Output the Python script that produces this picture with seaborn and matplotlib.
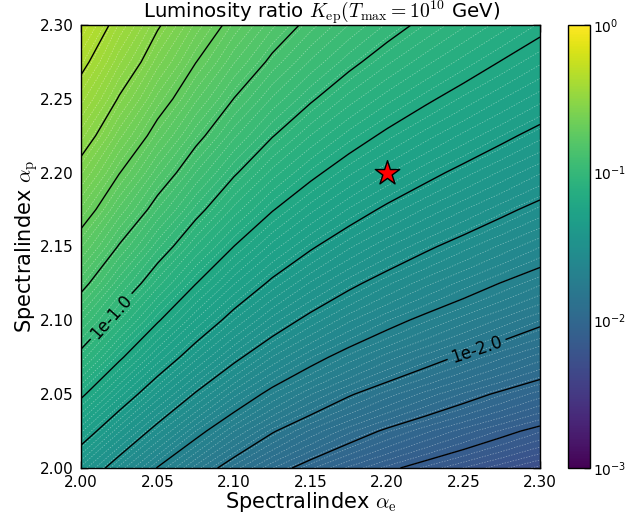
import numpy as np
import matplotlib
matplotlib.use("Agg")
import matplotlib.pyplot as plt
from matplotlib.colors import LogNorm
from matplotlib.cm import ScalarMappable
import seaborn as sns

# Spectral-index grid (electrons along x, protons along y)
alpha_e = [2.000, 2.025, 2.050, 2.075, 2.100, 2.125, 2.150,
           2.175, 2.200, 2.225, 2.250, 2.275, 2.300]
alpha_p = [2.000, 2.025, 2.050, 2.075, 2.100, 2.125, 2.150,
           2.175, 2.200, 2.225, 2.250, 2.275, 2.300]

# log10 of the luminosity ratio K_ep on that grid; one row per alpha_p value
log10_Kep = [
    [-1.510, -1.662, -1.805, -1.936, -2.055, -2.158, -2.243, -2.317, -2.381, -2.438, -2.491, -2.542, -2.592],
    [-1.344, -1.496, -1.639, -1.770, -1.889, -1.992, -2.077, -2.151, -2.215, -2.272, -2.325, -2.376, -2.426],
    [-1.184, -1.336, -1.479, -1.610, -1.729, -1.832, -1.917, -1.991, -2.055, -2.112, -2.165, -2.216, -2.266],
    [-1.034, -1.186, -1.329, -1.460, -1.579, -1.682, -1.767, -1.841, -1.905, -1.962, -2.015, -2.066, -2.116],
    [-0.897, -1.049, -1.192, -1.323, -1.442, -1.545, -1.630, -1.704, -1.768, -1.825, -1.878, -1.929, -1.979],
    [-0.772, -0.924, -1.067, -1.198, -1.317, -1.420, -1.505, -1.579, -1.643, -1.700, -1.753, -1.804, -1.854],
    [-0.656, -0.808, -0.951, -1.082, -1.201, -1.304, -1.389, -1.463, -1.527, -1.584, -1.637, -1.688, -1.738],
    [-0.547, -0.699, -0.842, -0.973, -1.092, -1.195, -1.280, -1.354, -1.418, -1.475, -1.528, -1.579, -1.629],
    [-0.445, -0.597, -0.740, -0.871, -0.990, -1.093, -1.178, -1.252, -1.316, -1.373, -1.426, -1.477, -1.527],
    [-0.348, -0.500, -0.643, -0.774, -0.893, -0.996, -1.081, -1.155, -1.219, -1.276, -1.329, -1.380, -1.430],
    [-0.257, -0.409, -0.552, -0.683, -0.802, -0.905, -0.990, -1.064, -1.128, -1.185, -1.238, -1.289, -1.339],
    [-0.172, -0.324, -0.467, -0.598, -0.717, -0.820, -0.905, -0.979, -1.043, -1.100, -1.153, -1.204, -1.254],
    [-0.094, -0.246, -0.389, -0.520, -0.639, -0.742, -0.827, -0.901, -0.965, -1.022, -1.075, -1.126, -1.176],
]

# Reference model marked with a star
star_alpha_e = [2.20]
star_alpha_p = [2.20]

# Contour levels that carry an inline label, and where the labels sit
label_levels = [1e-2, 1e-1]
label_spots = [(2.258, 2.082), (2.017, 2.105)]

axis_ticks = [2.00, 2.05, 2.10, 2.15, 2.20, 2.25, 2.30]
cbar_decades = [-3, -2, -1, 0]

sns.set_style("ticks")
plt.rcParams.update({
    "font.family": ["DejaVu Sans"],
    "mathtext.fontset": "cm",
    "axes.unicode_minus": False,
    "xtick.direction": "in",
    "ytick.direction": "in",
    "xtick.top": True,
    "ytick.right": True,
    "axes.edgecolor": "black",
    "axes.linewidth": 1.0,
    "xtick.color": "black",
    "ytick.color": "black",
    "text.color": "black",
    "axes.labelcolor": "black",
})

W, H = 627, 522
fig = plt.figure(figsize=(W / 100, H / 100), dpi=100)
ax = fig.add_axes([81 / W, 1 - 468 / H, (540 - 81) / W, (468 - 25) / H])
cax = fig.add_axes([568 / W, 1 - 468 / H, 22 / W, (468 - 25) / H])

E, P = np.meshgrid(alpha_e, alpha_p)
K = 10.0 ** np.array(log10_Kep)

cmap = sns.color_palette("viridis", as_cmap=True)
fill_norm = LogNorm(vmin=10 ** -3.5, vmax=10 ** 0.3)
bar_norm = LogNorm(vmin=1e-3, vmax=1e0)

fill_levels = np.logspace(-3, 0, 101)
ax.contourf(E, P, K, levels=fill_levels, norm=fill_norm, cmap=cmap)
# faint seams between the filled bands
ax.contour(E, P, K, levels=fill_levels, colors="white", linewidths=0.5,
           alpha=0.42, linestyles=[(0, (2.0, 2.0))])

# Black iso-lines every 0.2 decades; the labelled decades go in their own set
line_exp = np.round(np.linspace(-3, 0, 16), 6)
label_exp = np.log10(label_levels)
plain_exp = [e for e in line_exp if np.min(np.abs(label_exp - e)) > 1e-6]
ax.contour(E, P, K, levels=10.0 ** np.array(plain_exp),
           colors="black", linewidths=1.0)
cs_lab = ax.contour(E, P, K, levels=label_levels,
                    colors="black", linewidths=1.0)
ax.clabel(cs_lab, manual=label_spots, inline=True, inline_spacing=4,
          fmt=lambda v: "1e%.1f" % np.log10(v), fontsize=12)

sns.scatterplot(x=star_alpha_e, y=star_alpha_p, marker="*", s=340,
                color="red", edgecolor="black", linewidth=1.0, ax=ax,
                zorder=5, legend=False)

ax.set_xlim(2.0, 2.3)
ax.set_ylim(2.0, 2.3)
ax.set_xticks(axis_ticks)
ax.set_yticks(axis_ticks)
ax.set_xticklabels(["%.2f" % t for t in axis_ticks])
ax.set_yticklabels(["%.2f" % t for t in axis_ticks])
ax.tick_params(which="both", direction="in", length=5, width=1,
               labelsize=11, pad=5, top=True, right=True)
ax.minorticks_off()

ax.set_xlabel(r"Spectralindex $\alpha_{\rm e}$", fontsize=15, labelpad=0)
ax.set_ylabel(r"Spectralindex $\alpha_{\rm p}$", fontsize=15, labelpad=0)
fig.text(143 / W, 1 - 18 / H,
         r"Luminosity ratio $K_{\rm ep}(T_{\rm max}=10^{10}$ GeV)",
         fontsize=14.2, ha="left", va="baseline")

cbar = fig.colorbar(ScalarMappable(norm=bar_norm, cmap=cmap), cax=cax)
cbar.minorticks_off()
cb_ticks = np.logspace(-3, 0, 16)
cb_labels = []
for t in cb_ticks:
    d = np.log10(t)
    k = int(round(d))
    if abs(d - k) < 1e-6 and k in cbar_decades:
        cb_labels.append(r"$\mathdefault{10^{%d}}$" % k)
    else:
        cb_labels.append("")
cbar.set_ticks(cb_ticks, labels=cb_labels)
cbar.ax.tick_params(direction="in", length=4, width=1, labelsize=10, pad=2)
cbar.outline.set_linewidth(1.0)

fig.savefig("out.png", dpi=100)
